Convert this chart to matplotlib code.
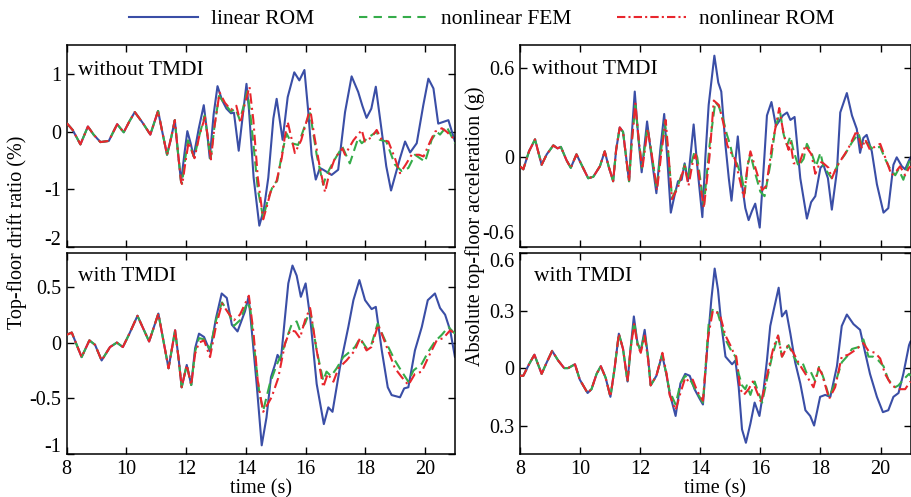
import numpy as np
import matplotlib
matplotlib.use("Agg")
import matplotlib.pyplot as plt
from matplotlib.lines import Line2D
from matplotlib.transforms import ScaledTranslation

plt.rcParams['font.family'] = ['Liberation Serif', 'DejaVu Serif']
plt.rcParams['axes.unicode_minus'] = False

# ---------------- top-left: drift ratio, without TMDI ----------------
tl_t0 = [8.0, 8.2, 8.46, 8.71, 8.9, 9.13, 9.41, 9.69, 9.91, 10.1, 10.28, 10.55, 10.8, 11.06, 11.2, 11.36, 11.5, 11.62, 11.72, 11.83]
tl_v0 = [0.15, 0.03, -0.22, 0.09, -0.05, -0.18, -0.16, 0.13, -0.01, 0.18, 0.34, 0.15, -0.05, 0.36, 0.0, -0.40, -0.1, 0.20, -0.33, -0.87]

tl_lin_t = [11.95, 12.04, 12.15, 12.25, 12.42, 12.59, 12.7, 12.79, 12.92, 13.05, 13.2, 13.35, 13.5, 13.6, 13.76, 13.9, 14.02, 14.1, 14.26, 14.45, 14.6, 14.75, 14.92, 15.03, 15.23, 15.4, 15.62, 15.79, 15.96, 16.09, 16.2, 16.34, 16.48, 16.59, 16.87, 17.09, 17.32, 17.54, 17.76, 17.9, 18.04, 18.2, 18.35, 18.55, 18.7, 18.86, 19.16, 19.33, 19.5, 19.72, 19.94, 20.11, 20.28, 20.44, 20.61, 20.78, 21.0]
tl_lin_v = [-0.35, 0.01, -0.2, -0.43, 0.05, 0.46, 0.0, -0.46, 0.3, 0.79, 0.55, 0.40, 0.32, 0.33, -0.33, 0.3, 0.83, 0.4, -0.80, -1.63, -1.35, -0.80, 0.23, 0.57, -0.14, 0.6, 1.03, 0.89, 1.07, 0.34, -0.40, -0.83, -0.63, -0.66, -0.75, -0.66, 0.34, 0.96, 0.69, 0.45, 0.24, 0.4, 0.78, 0.0, -0.6, -1.02, -0.46, -0.17, -0.36, -0.20, 0.46, 0.92, 0.75, 0.14, 0.17, 0.20, -0.17]

tl_fem_t = [11.86, 11.96, 12.06, 12.27, 12.45, 12.62, 12.82, 12.95, 13.1, 13.3, 13.5, 13.65, 13.8, 13.95, 14.05, 14.15, 14.25, 14.4, 14.58, 14.75, 14.92, 15.05, 15.2, 15.36, 15.53, 15.75, 15.98, 16.15, 16.37, 16.59, 16.7, 16.93, 17.23, 17.48, 17.76, 17.88, 18.1, 18.38, 18.48, 18.7, 18.99, 19.21, 19.44, 19.66, 19.8, 20.0, 20.22, 20.39, 20.5, 20.72, 21.0]
tl_fem_v = [-0.90, -0.5, -0.15, -0.45, -0.05, 0.28, -0.47, 0.1, 0.62, 0.48, 0.35, 0.40, 0.20, 0.5, 0.70, 0.3, -0.2, -1.0, -1.49, -1.15, -0.92, -0.85, -0.40, -0.03, -0.20, -0.23, 0.11, 0.32, -0.40, -0.92, -0.75, -0.52, -0.26, -0.55, -0.11, -0.2, -0.1, 0.0, -0.14, -0.17, -0.57, -0.68, -0.63, -0.40, -0.45, -0.52, -0.14, 0.0, -0.05, 0.09, -0.2]

tl_rom_t = [11.87, 11.97, 12.08, 12.28, 12.45, 12.63, 12.83, 12.95, 13.12, 13.3, 13.5, 13.68, 13.82, 13.95, 14.12, 14.25, 14.4, 14.58, 14.7, 14.86, 15.0, 15.2, 15.3, 15.4, 15.64, 15.85, 16.15, 16.3, 16.48, 16.65, 16.78, 16.98, 17.23, 17.32, 17.6, 17.88, 17.98, 18.2, 18.38, 18.55, 18.77, 18.99, 19.16, 19.34, 19.55, 19.8, 19.95, 20.17, 20.33, 20.56, 20.72, 21.0]
tl_rom_v = [-0.92, -0.55, -0.18, -0.46, -0.05, 0.25, -0.48, 0.1, 0.68, 0.5, 0.38, 0.45, 0.15, 0.45, 0.78, 0.2, -0.8, -1.52, -1.3, -0.98, -0.92, -0.46, -0.1, 0.17, -0.37, -0.15, 0.40, -0.1, -0.63, -1.05, -0.75, -0.46, -0.29, -0.4, -0.15, 0.03, -0.17, -0.1, 0.03, -0.14, -0.17, -0.46, -0.72, -0.58, -0.40, -0.40, -0.43, -0.17, 0.0, 0.06, 0.0, -0.14]

# ---------------- bottom-left: drift ratio, with TMDI ----------------
bl_t0 = [8.0, 8.17, 8.5, 8.76, 8.95, 9.17, 9.45, 9.68, 9.88, 10.1, 10.37, 10.76, 11.07, 11.25, 11.41, 11.63, 11.75, 11.85, 12.02, 12.17]
bl_v0 = [0.07, 0.09, -0.13, 0.02, -0.02, -0.16, -0.04, 0.0, -0.04, 0.08, 0.24, 0.01, 0.26, 0.0, -0.23, 0.11, -0.15, -0.40, -0.20, -0.38]

bl_lin_t = [12.3, 12.43, 12.6, 12.8, 13.0, 13.19, 13.36, 13.53, 13.72, 13.97, 14.09, 14.2, 14.36, 14.53, 14.69, 14.84, 14.97, 15.06, 15.17, 15.31, 15.42, 15.56, 15.7, 15.84, 16.0, 16.15, 16.37, 16.61, 16.76, 16.9, 17.15, 17.43, 17.6, 17.8, 17.99, 18.21, 18.35, 18.55, 18.75, 18.88, 19.16, 19.3, 19.44, 19.66, 19.89, 20.09, 20.33, 20.5, 20.67, 20.84, 21.0]
bl_lin_v = [-0.05, 0.08, 0.05, -0.08, 0.22, 0.44, 0.40, 0.16, 0.10, 0.28, 0.41, 0.1, -0.37, -0.92, -0.67, -0.31, -0.20, -0.11, -0.16, 0.23, 0.53, 0.69, 0.6, 0.41, 0.53, 0.23, -0.37, -0.73, -0.58, -0.62, -0.22, 0.14, 0.38, 0.56, 0.38, 0.30, 0.32, -0.07, -0.40, -0.47, -0.49, -0.41, -0.40, -0.07, 0.14, 0.38, 0.44, 0.31, 0.25, 0.11, -0.13]

bl_fem_t = [12.3, 12.43, 12.6, 12.8, 13.0, 13.2, 13.4, 13.6, 13.8, 14.05, 14.15, 14.3, 14.45, 14.58, 14.8, 15.03, 15.2, 15.42, 15.53, 15.7, 15.81, 15.98, 16.15, 16.37, 16.59, 16.7, 16.85, 17.04, 17.26, 17.4, 17.65, 17.82, 18.04, 18.2, 18.41, 18.66, 18.99, 19.22, 19.44, 19.61, 19.89, 20.11, 20.33, 20.56, 20.78, 21.0]
bl_fem_v = [-0.08, 0.04, 0.03, -0.06, 0.2, 0.36, 0.28, 0.15, 0.2, 0.36, 0.3, -0.1, -0.45, -0.61, -0.37, -0.20, -0.10, 0.08, 0.16, 0.19, 0.11, 0.17, 0.29, -0.07, -0.34, -0.26, -0.30, -0.23, -0.13, -0.10, -0.04, 0.04, -0.05, -0.02, 0.17, 0.02, -0.16, -0.26, -0.35, -0.25, -0.19, -0.08, 0.01, 0.07, 0.14, 0.08]

bl_rom_t = [12.3, 12.43, 12.6, 12.8, 13.0, 13.2, 13.4, 13.6, 13.8, 14.1, 14.25, 14.4, 14.58, 14.86, 15.08, 15.31, 15.48, 15.65, 15.81, 15.98, 16.15, 16.37, 16.59, 16.74, 16.93, 17.1, 17.37, 17.65, 17.82, 18.04, 18.2, 18.43, 18.66, 18.99, 19.22, 19.44, 19.66, 19.89, 20.11, 20.39, 20.61, 20.84, 21.0]
bl_rom_v = [-0.1, 0.0, 0.02, -0.13, 0.15, 0.35, 0.27, 0.2, 0.25, 0.42, 0.1, -0.35, -0.62, -0.49, -0.32, -0.01, 0.11, 0.10, 0.04, 0.20, 0.31, -0.07, -0.40, -0.28, -0.35, -0.23, -0.16, -0.07, 0.04, -0.07, -0.04, 0.16, 0.0, -0.23, -0.31, -0.38, -0.28, -0.26, -0.13, 0.02, 0.04, 0.11, 0.08]

# ---------------- top-right: acceleration, without TMDI ----------------
tr_t0 = [8.0, 8.11, 8.3, 8.5, 8.72, 8.89, 9.11, 9.25, 9.36, 9.55, 9.69, 9.88, 10.05, 10.27, 10.44, 10.66, 10.82, 10.95, 11.1, 11.2, 11.32, 11.43, 11.63]
tr_v0 = [-0.06, -0.08, 0.04, 0.12, -0.05, 0.02, 0.08, 0.06, 0.07, -0.02, -0.07, 0.02, -0.05, -0.14, -0.13, -0.06, 0.04, -0.06, -0.16, 0.05, 0.2, 0.17, -0.16]

tr_lin_t = [11.72, 11.82, 11.93, 12.05, 12.23, 12.38, 12.54, 12.67, 12.8, 12.9, 13.02, 13.15, 13.26, 13.38, 13.48, 13.59, 13.78, 13.92, 14.07, 14.17, 14.28, 14.47, 14.6, 14.7, 14.84, 14.95, 15.04, 15.25, 15.39, 15.5, 15.61, 15.72, 15.83, 15.98, 16.14, 16.22, 16.37, 16.52, 16.62, 16.75, 16.89, 17.0, 17.14, 17.33, 17.55, 17.69, 17.83, 18.0, 18.1, 18.25, 18.38, 18.55, 18.66, 18.88, 19.05, 19.21, 19.32, 19.43, 19.54, 19.71, 19.88, 20.1, 20.26, 20.43, 20.54, 20.71, 20.82, 20.95, 21.0]
tr_lin_v = [0.15, 0.44, 0.15, -0.10, 0.24, 0.0, -0.24, 0.05, 0.29, 0.0, -0.37, -0.25, -0.16, -0.15, -0.04, -0.16, 0.22, -0.1, -0.40, 0.0, 0.35, 0.68, 0.50, 0.44, 0.08, -0.14, -0.29, 0.14, -0.18, -0.34, -0.42, -0.36, -0.31, -0.47, 0.02, 0.28, 0.37, 0.21, 0.24, 0.28, 0.30, 0.25, 0.27, -0.14, -0.41, -0.30, -0.26, -0.07, -0.05, -0.14, -0.35, -0.09, 0.30, 0.43, 0.28, 0.19, 0.03, 0.13, 0.15, 0.04, -0.18, -0.37, -0.34, -0.05, 0.0, -0.06, -0.08, -0.02, 0.0]

tr_fem_t = [11.72, 11.84, 11.95, 12.06, 12.24, 12.4, 12.55, 12.68, 12.82, 12.95, 13.06, 13.26, 13.48, 13.59, 13.81, 13.9, 14.12, 14.31, 14.5, 14.62, 14.78, 14.89, 15.0, 15.11, 15.22, 15.39, 15.48, 15.58, 15.67, 15.82, 16.0, 16.14, 16.33, 16.5, 16.66, 16.78, 16.89, 17.0, 17.11, 17.27, 17.44, 17.55, 17.72, 17.85, 18.0, 18.1, 18.27, 18.38, 18.6, 18.82, 19.05, 19.27, 19.38, 19.54, 19.71, 19.99, 20.15, 20.3, 20.49, 20.6, 20.76, 20.95, 21.0]
tr_fem_v = [0.1, 0.35, 0.12, -0.07, 0.2, 0.0, -0.21, 0.02, 0.24, 0.0, -0.27, -0.19, -0.05, -0.13, 0.04, 0.0, -0.32, 0.08, 0.37, 0.34, 0.24, 0.15, 0.08, -0.02, -0.04, -0.14, -0.24, -0.05, 0.02, -0.10, -0.23, -0.26, -0.05, 0.20, 0.30, 0.15, 0.08, 0.14, 0.04, -0.06, -0.01, 0.09, 0.02, -0.06, 0.03, -0.06, -0.11, -0.14, -0.04, 0.02, 0.10, 0.16, 0.08, 0.10, 0.06, 0.07, -0.01, -0.07, -0.12, -0.08, -0.15, -0.03, -0.02]

tr_rom_t = [11.72, 11.84, 11.95, 12.07, 12.25, 12.4, 12.56, 12.7, 12.85, 12.95, 13.06, 13.26, 13.48, 13.61, 13.76, 13.85, 14.12, 14.31, 14.45, 14.62, 14.78, 14.9, 15.0, 15.15, 15.34, 15.45, 15.58, 15.67, 15.85, 16.06, 16.2, 16.39, 16.63, 16.78, 16.94, 17.0, 17.11, 17.3, 17.5, 17.7, 17.83, 18.0, 18.1, 18.27, 18.38, 18.55, 18.71, 18.93, 19.21, 19.38, 19.49, 19.65, 19.88, 19.99, 20.21, 20.37, 20.5, 20.65, 20.82, 20.95, 21.0]
tr_rom_v = [0.1, 0.36, 0.12, -0.08, 0.19, 0.0, -0.22, 0.02, 0.25, 0.0, -0.28, -0.2, -0.06, -0.19, -0.02, 0.02, -0.34, 0.01, 0.38, 0.35, 0.22, 0.08, 0.04, -0.01, -0.17, -0.27, -0.05, 0.04, -0.08, -0.22, -0.19, 0.08, 0.33, 0.15, 0.05, 0.1, -0.04, -0.04, 0.08, 0.02, -0.11, -0.03, -0.04, -0.07, -0.14, -0.06, -0.01, 0.06, 0.18, 0.06, 0.12, 0.05, 0.08, 0.09, -0.03, -0.12, -0.10, -0.06, -0.12, -0.07, -0.06]

# ---------------- bottom-right: acceleration, with TMDI ----------------
br_t0 = [8.0, 8.11, 8.3, 8.48, 8.6, 8.72, 8.89, 9.07, 9.27, 9.47, 9.6, 9.83, 9.99, 10.25, 10.38, 10.55, 10.69, 10.85, 11.01, 11.15, 11.29, 11.43, 11.58]
br_v0 = [-0.04, -0.04, 0.02, 0.07, 0.02, -0.03, 0.03, 0.09, 0.04, 0.0, 0.0, 0.02, -0.06, -0.13, -0.11, -0.03, 0.01, -0.05, -0.15, 0.0, 0.18, 0.10, -0.07]

br_lin_t = [11.68, 11.79, 11.91, 12.02, 12.15, 12.26, 12.35, 12.54, 12.73, 12.87, 12.98, 13.18, 13.34, 13.5, 13.65, 13.81, 13.98, 14.09, 14.23, 14.37, 14.48, 14.59, 14.7, 14.84, 14.95, 15.06, 15.17, 15.28, 15.39, 15.52, 15.67, 15.81, 15.97, 16.11, 16.22, 16.33, 16.44, 16.61, 16.72, 16.86, 17.0, 17.16, 17.33, 17.5, 17.66, 17.79, 17.99, 18.16, 18.33, 18.55, 18.71, 18.88, 19.1, 19.32, 19.49, 19.65, 19.88, 20.08, 20.26, 20.43, 20.6, 20.76, 20.95, 21.0]
br_lin_v = [0.1, 0.27, 0.13, 0.09, 0.20, 0.06, -0.09, -0.04, 0.07, -0.03, -0.13, -0.25, -0.08, -0.03, -0.04, -0.11, -0.16, -0.19, 0.10, 0.36, 0.52, 0.41, 0.23, 0.06, 0.04, 0.02, 0.04, -0.10, -0.32, -0.39, -0.29, -0.18, -0.25, -0.11, 0.04, 0.22, 0.30, 0.42, 0.27, 0.30, 0.18, 0.03, -0.08, -0.22, -0.25, -0.30, -0.15, -0.14, -0.15, 0.01, 0.22, 0.28, 0.23, 0.20, 0.08, -0.03, -0.15, -0.23, -0.22, -0.15, -0.13, -0.03, 0.12, 0.14]

br_fem_t = [11.68, 11.8, 11.91, 12.02, 12.15, 12.26, 12.35, 12.54, 12.73, 12.87, 12.98, 13.18, 13.34, 13.5, 13.7, 13.9, 14.09, 14.28, 14.42, 14.56, 14.67, 14.84, 15.0, 15.17, 15.28, 15.39, 15.5, 15.55, 15.67, 15.81, 15.94, 16.06, 16.22, 16.39, 16.59, 16.72, 16.94, 17.11, 17.27, 17.4, 17.55, 17.68, 17.83, 17.96, 18.1, 18.29, 18.49, 18.71, 18.88, 19.05, 19.27, 19.43, 19.6, 19.75, 19.93, 20.1, 20.26, 20.49, 20.6, 20.76, 20.95, 21.0]
br_fem_v = [0.1, 0.24, 0.13, 0.09, 0.18, 0.06, -0.09, -0.04, 0.07, -0.03, -0.12, -0.19, -0.08, -0.04, -0.07, -0.13, -0.18, 0.23, 0.31, 0.30, 0.24, 0.15, 0.10, 0.06, -0.03, -0.09, -0.11, -0.09, -0.14, -0.07, -0.13, -0.18, -0.06, 0.06, 0.17, 0.06, 0.12, 0.06, 0.02, 0.03, -0.03, -0.02, -0.07, 0.01, -0.05, -0.15, -0.08, 0.03, 0.06, 0.10, 0.11, 0.15, 0.06, 0.06, 0.04, 0.01, -0.06, -0.10, -0.09, -0.06, -0.03, -0.04]

br_rom_t = [11.68, 11.8, 11.91, 12.02, 12.15, 12.26, 12.35, 12.54, 12.74, 12.88, 12.98, 13.18, 13.34, 13.5, 13.62, 13.75, 13.9, 14.09, 14.26, 14.42, 14.56, 14.67, 14.84, 15.0, 15.11, 15.2, 15.33, 15.45, 15.61, 15.75, 15.9, 16.03, 16.22, 16.44, 16.59, 16.72, 16.92, 17.1, 17.3, 17.5, 17.77, 17.94, 18.05, 18.29, 18.49, 18.71, 18.93, 19.21, 19.43, 19.6, 19.82, 19.99, 20.15, 20.37, 20.6, 20.82, 20.95, 21.0]
br_rom_v = [0.1, 0.23, 0.12, 0.08, 0.17, 0.05, -0.09, -0.04, 0.08, -0.03, -0.14, -0.22, -0.13, -0.05, -0.07, -0.06, -0.12, -0.17, 0.16, 0.30, 0.29, 0.27, 0.17, 0.12, 0.08, 0.06, -0.11, -0.14, -0.11, -0.07, -0.13, -0.18, -0.04, 0.11, 0.17, 0.06, 0.12, 0.08, 0.02, -0.03, -0.10, 0.0, -0.03, -0.16, -0.10, 0.06, 0.07, 0.10, 0.13, 0.09, 0.08, 0.05, -0.03, -0.09, -0.11, -0.11, -0.08, -0.07]

labels = ['linear ROM', 'nonlinear FEM', 'nonlinear ROM']
blue = '#3a4ea6'
green = '#35ac4a'
red = '#e8262d'
fs = 14.5

fig = plt.figure(figsize=(9.11, 4.97), dpi=100)
ax_tl = fig.add_axes([0.0732, 0.503, 0.4262, 0.406])
ax_bl = fig.add_axes([0.0732, 0.086, 0.4262, 0.4044])
ax_tr = fig.add_axes([0.5708, 0.503, 0.4287, 0.406])
ax_br = fig.add_axes([0.5708, 0.086, 0.4287, 0.4044])


def draw(ax, t0, v0, lt, lv, ft, fv, rt, rv):
    ax.plot(t0 + lt, v0 + lv, color=blue, lw=1.5, zorder=2,
            solid_joinstyle='round', solid_capstyle='round')
    ax.plot(t0 + ft, v0 + fv, color=green, lw=1.5, dashes=(5, 2.5), zorder=3,
            dash_joinstyle='round')
    ax.plot(t0 + rt, v0 + rv, color=red, lw=1.5, dashes=(5, 2, 1, 2), zorder=4,
            dash_joinstyle='round')


draw(ax_tl, tl_t0, tl_v0, tl_lin_t, tl_lin_v, tl_fem_t, tl_fem_v, tl_rom_t, tl_rom_v)
draw(ax_bl, bl_t0, bl_v0, bl_lin_t, bl_lin_v, bl_fem_t, bl_fem_v, bl_rom_t, bl_rom_v)
draw(ax_tr, tr_t0, tr_v0, tr_lin_t, tr_lin_v, tr_fem_t, tr_fem_v, tr_rom_t, tr_rom_v)
draw(ax_br, br_t0, br_v0, br_lin_t, br_lin_v, br_fem_t, br_fem_v, br_rom_t, br_rom_v)

ax_tl.set_ylim(-2, 1.5)
ax_tl.set_yticks([-2, -1, 0, 1])
ax_tl.set_yticklabels(['-2', '-1', '0', '1'])
ax_bl.set_ylim(-1, 0.8)
ax_bl.set_yticks([-1, -0.5, 0, 0.5])
ax_bl.set_yticklabels(['-1', '-0.5', '0', '0.5'])
ax_tr.set_ylim(-0.6, 0.75)
ax_tr.set_yticks([-0.6, 0, 0.6])
ax_tr.set_yticklabels(['-0.6', '0', '0.6'])
ax_br.set_ylim(-0.45, 0.6)
ax_br.set_yticks([-0.3, 0, 0.3, 0.6])
ax_br.set_yticklabels(['0.3', '0', '0.3', '0.6'])

for ax in [ax_tl, ax_bl, ax_tr, ax_br]:
    ax.set_xlim(8, 21)
    ax.set_xticks([8, 10, 12, 14, 16, 18, 20])
    ax.tick_params(direction='in', top=True, right=True, length=5, width=1,
                   labelsize=fs, pad=4)
    for s in ax.spines.values():
        s.set_linewidth(1.1)
for ax in [ax_tl, ax_tr]:
    ax.tick_params(labelbottom=False)
for ax in [ax_bl, ax_br]:
    ax.set_xlabel('time (s)', fontsize=fs, labelpad=0)

ax_tl.text(0.029, 0.876, 'without TMDI', transform=ax_tl.transAxes, fontsize=15.5, va='center')
ax_tr.text(0.031, 0.88, 'without TMDI', transform=ax_tr.transAxes, fontsize=15.5, va='center')
ax_bl.text(0.029, 0.882, 'with TMDI', transform=ax_bl.transAxes, fontsize=15.5, va='center')
ax_br.text(0.037, 0.882, 'with TMDI', transform=ax_br.transAxes, fontsize=15.5, va='center')

fig.text(0.0187, 0.532, 'Top-floor drift ratio (%)', rotation=90, ha='center', va='center', fontsize=fs)
fig.text(0.522, 0.545, 'Absolute top-floor acceleration (g)', rotation=90, ha='center', va='center', fontsize=fs)

# labels at the ends of an axis sit a little inside it
def shift_label(ax, text, dy):
    for lab in ax.get_yticklabels():
        if lab.get_text() == text:
            lab.set_transform(lab.get_transform() + ScaledTranslation(0, dy / 100, fig.dpi_scale_trans))

shift_label(ax_tl, '-2', 9)
shift_label(ax_bl, '-1', 9)
shift_label(ax_tr, '-0.6', 15)
shift_label(ax_br, '0.6', -7)

handles = [Line2D([], [], color=blue, lw=1.5),
           Line2D([], [], color=green, lw=1.5, dashes=(4, 3)),
           Line2D([], [], color=red, lw=1.5, dashes=(4, 1.5, 1, 1.5))]
fig.legend(handles, labels, loc='center', bbox_to_anchor=(0.5286, 0.961), ncol=3,
           frameon=False, fontsize=15.5, handlelength=3.2, handletextpad=0.6,
           columnspacing=2.1, borderaxespad=0)

fig.savefig('out.png', dpi=100)
